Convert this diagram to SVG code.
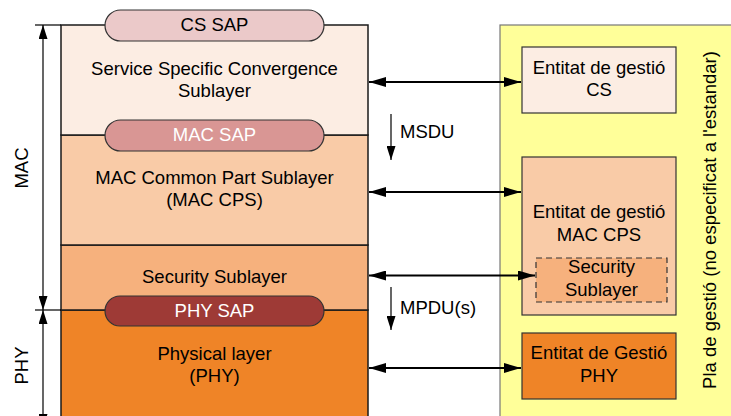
<svg xmlns="http://www.w3.org/2000/svg" width="731" height="416" viewBox="0 0 731 416">
<defs>
<style>
text{font-family:"Liberation Sans",Arial,sans-serif;font-size:18.5px;fill:#000;text-anchor:middle}
.layer{stroke:#1a1a1a;stroke-width:1.5}
.sap{stroke:#333;stroke-width:1.2}
.ent{stroke:#333;stroke-width:1.2}
.conn{stroke:#000;stroke-width:1.8;fill:none}
.thin{stroke:#000;stroke-width:1.2;fill:none}
.w{fill:#fff}
</style>
<marker id="ah" viewBox="0 0 17 10" refX="17" refY="5" markerWidth="17" markerHeight="10" markerUnits="userSpaceOnUse" orient="auto-start-reverse">
<path d="M0,0 L17,5 L0,10 Z" fill="#000"/>
</marker>
<marker id="ahs" viewBox="0 0 14 9" refX="14" refY="4.5" markerWidth="14" markerHeight="9" markerUnits="userSpaceOnUse" orient="auto-start-reverse">
<path d="M0,0 L14,4.5 L0,9 Z" fill="#000"/>
</marker>
</defs>
<rect x="0" y="0" width="731" height="416" fill="#fff"/>

<g id="mgmt-plane">
<rect x="500" y="25" width="240" height="400" fill="#FFFF99" stroke="#777" stroke-width="1.2"/>
<text transform="translate(716,220) rotate(-90)">Pla de gestió (no especificat a l'estandar)</text>
</g>

<g id="phy-layer">
<rect class="layer" x="61" y="310" width="307" height="120" fill="#EF8427"/>
<text x="214.5" y="360">Physical layer</text>
<text x="214.5" y="382">(PHY)</text>
</g>
<g id="security-layer">
<rect class="layer" x="61" y="245" width="307" height="65" fill="#F6B17D"/>
<text x="214.5" y="282.5">Security Sublayer</text>
</g>
<g id="mac-cps-layer">
<rect class="layer" x="61" y="135" width="307" height="110" fill="#F9CBA7"/>
<text x="214.5" y="184">MAC Common Part Sublayer</text>
<text x="214.5" y="206">(MAC CPS)</text>
</g>
<g id="cs-layer">
<rect class="layer" x="61" y="25" width="307" height="110" fill="#FCEDE3"/>
<text x="214.5" y="75">Service Specific Convergence</text>
<text x="214.5" y="97">Sublayer</text>
</g>

<g id="cs-sap">
<rect class="sap" x="105" y="10" width="219" height="31" rx="15.5" fill="#EBC9C9"/>
<text x="214.5" y="31">CS SAP</text>
</g>
<g id="mac-sap">
<rect class="sap" x="105" y="120" width="219" height="31" rx="15.5" fill="#D99694"/>
<text class="w" x="214.5" y="141">MAC SAP</text>
</g>
<g id="phy-sap">
<rect class="sap" x="105" y="296" width="219" height="30" rx="15" fill="#9E3A36"/>
<text class="w" x="214.5" y="317">PHY SAP</text>
</g>

<g id="ent-cs">
<rect class="ent" x="522" y="47" width="154" height="66" fill="#FCEDE3"/>
<text x="599" y="74">Entitat de gestió</text>
<text x="599" y="96">CS</text>
</g>
<g id="ent-mac">
<rect class="ent" x="522" y="157" width="154" height="158" fill="#F9CBA7"/>
<text x="599" y="218">Entitat de gestió</text>
<text x="599" y="240.5">MAC CPS</text>
</g>
<g id="ent-sec">
<rect x="536" y="258" width="131" height="44" fill="#F6B17D" stroke="#333" stroke-width="1.2" stroke-dasharray="6,4"/>
<text x="601.5" y="273">Security</text>
<text x="601.5" y="295.5">Sublayer</text>
</g>
<g id="ent-phy">
<rect class="ent" x="522" y="333" width="154" height="66" fill="#EF8427"/>
<text x="599" y="359">Entitat de Gestió</text>
<text x="599" y="381.5">PHY</text>
</g>

<g id="labels">
<text transform="translate(28,168) rotate(-90)">MAC</text>
<text transform="translate(28,365.5) rotate(-90)">PHY</text>
<text x="400" y="138" style="text-anchor:start">MSDU</text>
<text x="400" y="314" style="text-anchor:start">MPDU(s)</text>
</g>

<g id="connectors">
<line class="thin" x1="35" y1="25" x2="61" y2="25"/>
<line class="thin" x1="35" y1="310" x2="61" y2="310"/>
<line class="thin" x1="43" y1="25" x2="43" y2="310" marker-start="url(#ahs)" marker-end="url(#ahs)"/>
<line class="thin" x1="43" y1="310" x2="43" y2="428" marker-start="url(#ahs)" marker-end="url(#ahs)"/>
<line class="conn" x1="369" y1="82" x2="521" y2="82" marker-start="url(#ah)" marker-end="url(#ah)"/>
<line class="conn" x1="369" y1="192" x2="521" y2="192" marker-start="url(#ah)" marker-end="url(#ah)"/>
<line class="conn" x1="369" y1="275.5" x2="535" y2="275.5" marker-start="url(#ah)" marker-end="url(#ah)"/>
<line class="conn" x1="369" y1="368" x2="521" y2="368" marker-start="url(#ah)" marker-end="url(#ah)"/>
<line class="thin" x1="391" y1="114" x2="391" y2="160" marker-end="url(#ahs)"/>
<line class="thin" x1="391" y1="287" x2="391" y2="330" marker-end="url(#ahs)"/>
</g>
</svg>
